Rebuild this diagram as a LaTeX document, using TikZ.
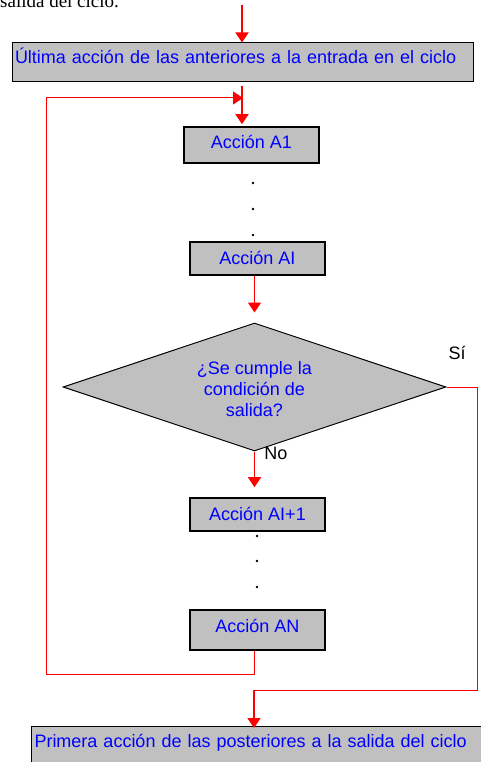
\documentclass[tikz,border=0pt]{standalone}
\usepackage{fontspec}
\setmainfont{Liberation Sans}
\newfontfamily\serifface{Liberation Serif}
\usetikzlibrary{shapes.geometric,arrows.meta}
\definecolor{boxgray}{RGB}{192,192,192}
\definecolor{txtblue}{RGB}{0,0,255}
\definecolor{linered}{RGB}{255,0,0}
\begin{document}
\begin{tikzpicture}[x=1pt,y=-1pt,
  box/.style={draw=black, line width=1.6pt, fill=boxgray, text=txtblue,
    font=\fontsize{18}{21}\selectfont, minimum width=135pt, inner sep=0pt,
    text height=13pt, text depth=2pt},
  widebox/.style={draw=black, line width=1pt, fill=boxgray, text=txtblue,
    font=\fontsize{18}{21}\selectfont, inner xsep=3pt, inner ysep=0pt,
    text width=455pt, align=left, minimum height=39pt},
  decision/.style={diamond, aspect=3, draw=black, line width=1pt, fill=boxgray,
    minimum width=383pt, minimum height=128pt, inner sep=0pt},
  dtext/.style={text=txtblue, font=\fontsize{18}{21}\selectfont, align=center, inner sep=0pt},
  tip/.style={-{Triangle[width=13pt,length=10pt]}},
  arr/.style={draw=linered, line width=1.6pt, tip},
  loopl/.style={draw=linered, line width=1pt},
  dotn/.style={circle, fill=black, minimum size=2.6pt, inner sep=0pt},
  lbl/.style={text=black, font=\fontsize{18}{21}\selectfont, inner sep=0pt}]
\useasboundingbox (0,0) rectangle (480,762);

\node[anchor=base west, inner sep=0pt, font=\serifface\fontsize{19}{22}\selectfont] (hdr) at (0,8) {salida del ciclo.};

\node[widebox, text height=10pt, text depth=7pt] (top) at (242.5,62.5) {Última acción de las anteriores a la entrada en el ciclo};
\node[box, minimum height=36pt, text height=12pt, text depth=4pt] (A1) at (251.5,145) {Acción A1};
\node[dotn] (d1) at (253,183) {};
\node[dotn] (d2) at (253,209) {};
\node[dotn] (d3) at (253,235) {};
\node[box, minimum height=33pt] (AI) at (257.5,258.5) {Acción AI};
\node[decision] (dia) at (254.5,387) {};
\node[dtext] (diat) at (254.5,389.5) {¿Se cumple la\\condición de\\salida?};
\node[lbl] (si) at (457,353) {Sí};
\node[lbl] (no) at (276,453) {No};
\node[box, minimum height=33pt] (AIp) at (257.5,514.5) {Acción AI+1};
\node[dotn] (d4) at (257,536) {};
\node[dotn] (d5) at (257,561) {};
\node[dotn] (d6) at (257,587) {};
\node[box, minimum height=40pt, text height=10pt, text depth=6pt] (AN) at (257.5,630) {Acción AN};
\node[widebox, anchor=north west, minimum height=40pt, text height=9pt, text depth=7pt] (bot) at (31,726) {Primera acción de las posteriores a la salida del ciclo};

\coordinate (in) at (242,5);
\coordinate (j1) at (243,98);
\coordinate (lp) at (254,674);
\coordinate (lc) at (46,98);
\coordinate (r) at (477,690);
\coordinate (yb) at (254,690);

\draw[arr] (in) -- (top.north -| in);
\draw[arr, shorten <=4pt, shorten >=2pt] (top.south -| in) -- (A1.north -| in);
\draw[loopl, tip] (AN.south -| lp) -- (lp) -| (lc) -- (j1);
\draw[arr, shorten >=10pt] (AI.south -| dia.north) -- (dia.north);
\draw[arr, shorten >=10pt] (dia.south) -- (AIp.north -| dia.south);
\draw[loopl] (dia.east) -| (r) -- (yb);
\draw[arr, shorten >=-2pt] (yb) -- (bot.north -| yb);
\end{tikzpicture}
\end{document}
